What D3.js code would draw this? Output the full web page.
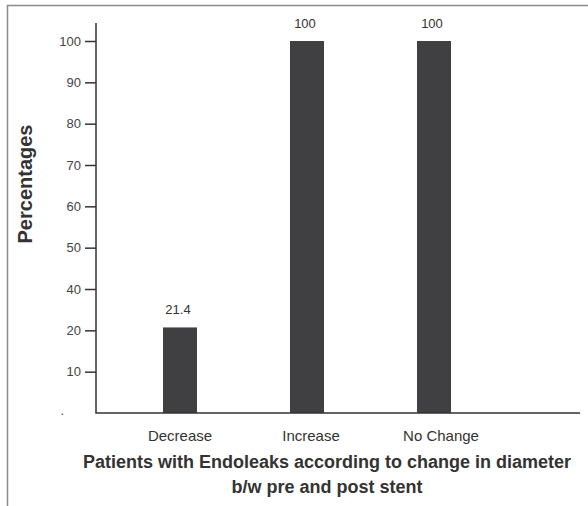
<!DOCTYPE html>
<html>
<head>
<meta charset="utf-8">
<script src="https://cdn.jsdelivr.net/npm/d3@7"></script>
<style>
  html, body { margin: 0; padding: 0; background: #fff; }
  svg { display: block; font-family: "Liberation Sans", Arial, sans-serif; }
</style>
</head>
<body>
<svg id="chart"></svg>
<script>
// data
const categories = ['Decrease', 'Increase', 'No Change'];
const values = [21.4, 100, 100];
// the printed axis skips 30, so ticks are evenly spaced but labelled like this
const tickValues = [0, 10, 20, 40, 50, 60, 70, 80, 90, 100];
const tickLabels = ['.', '10', '20', '40', '50', '60', '70', '80', '90', '100'];
const xTitle = ['Patients with Endoleaks according to change in diameter', 'b/w pre and post stent'];
const yTitle = 'Percentages';

const W = 588, H = 506;
const axisX = 96, axisRight = 580, baseY = 413, topTickY = 41;

const svg = d3.select('#chart').attr('width', W).attr('height', H);

// frame (left + top edges only)
svg.append('path')
  .attr('d', `M7.5,${H} V5.5 H${W}`)
  .attr('fill', 'none')
  .attr('stroke', '#8a8a8a')
  .attr('stroke-width', 1.5);

// y scale follows the printed labels: each tick one step apart
const step = (baseY - topTickY) / (tickValues.length - 1);
const y = d3.scaleLinear()
  .domain(tickValues)
  .range(tickValues.map((d, i) => baseY - i * step));

const x = d3.scalePoint()
  .domain(categories)
  .range([180, 434]);

const barW = 34;

// bars
svg.append('g')
  .selectAll('rect')
  .data(values)
  .enter()
  .append('rect')
  .attr('x', (d, i) => x(categories[i]) - barW / 2)
  .attr('y', d => y(d))
  .attr('width', barW)
  .attr('height', d => baseY - y(d))
  .attr('fill', '#404042');

// value labels
svg.append('g')
  .selectAll('text')
  .data(values)
  .enter()
  .append('text')
  .attr('x', (d, i) => x(categories[i]) - 2)
  .attr('y', d => y(d) - 13)
  .attr('text-anchor', 'middle')
  .attr('font-size', 13)
  .attr('fill', '#333')
  .text(d => d);

// y axis
const yAxis = d3.axisLeft(y)
  .tickValues(tickValues)
  .tickSize(11)
  .tickPadding(4)
  .tickFormat((d, i) => tickLabels[i]);

const gy = svg.append('g')
  .attr('transform', `translate(${axisX},0)`)
  .call(yAxis);
gy.select('.domain').remove();
gy.selectAll('.tick line').attr('stroke', '#333').attr('stroke-width', 1.5);
gy.selectAll('.tick text').attr('font-size', 13).attr('fill', '#444');
gy.selectAll('.tick').filter(d => d === 0).select('line').remove();
gy.selectAll('.tick').filter(d => d === 0).select('text').attr('x', -32).attr('dy', '0.1em');

// axis lines
svg.append('path')
  .attr('d', `M${axisX},23 V${baseY} H${axisRight}`)
  .attr('fill', 'none')
  .attr('stroke', '#333')
  .attr('stroke-width', 1.5);

// category labels
const catOffset = [0, 4, 7];
svg.append('g')
  .selectAll('text')
  .data(categories)
  .enter()
  .append('text')
  .attr('x', (d, i) => x(d) + catOffset[i])
  .attr('y', 441)
  .attr('text-anchor', 'middle')
  .attr('font-size', 15)
  .attr('fill', '#333')
  .text(d => d);

// x title
svg.append('g')
  .selectAll('text')
  .data(xTitle)
  .enter()
  .append('text')
  .attr('x', 327)
  .attr('y', (d, i) => 468 + i * 25)
  .attr('text-anchor', 'middle')
  .attr('font-size', 18)
  .attr('font-weight', 'bold')
  .attr('fill', '#333')
  .text(d => d);

// y title
svg.append('text')
  .attr('transform', 'translate(32,184) rotate(-90)')
  .attr('text-anchor', 'middle')
  .attr('font-size', 20)
  .attr('font-weight', 'bold')
  .attr('fill', '#333')
  .text(yTitle);
</script>
</body>
</html>
